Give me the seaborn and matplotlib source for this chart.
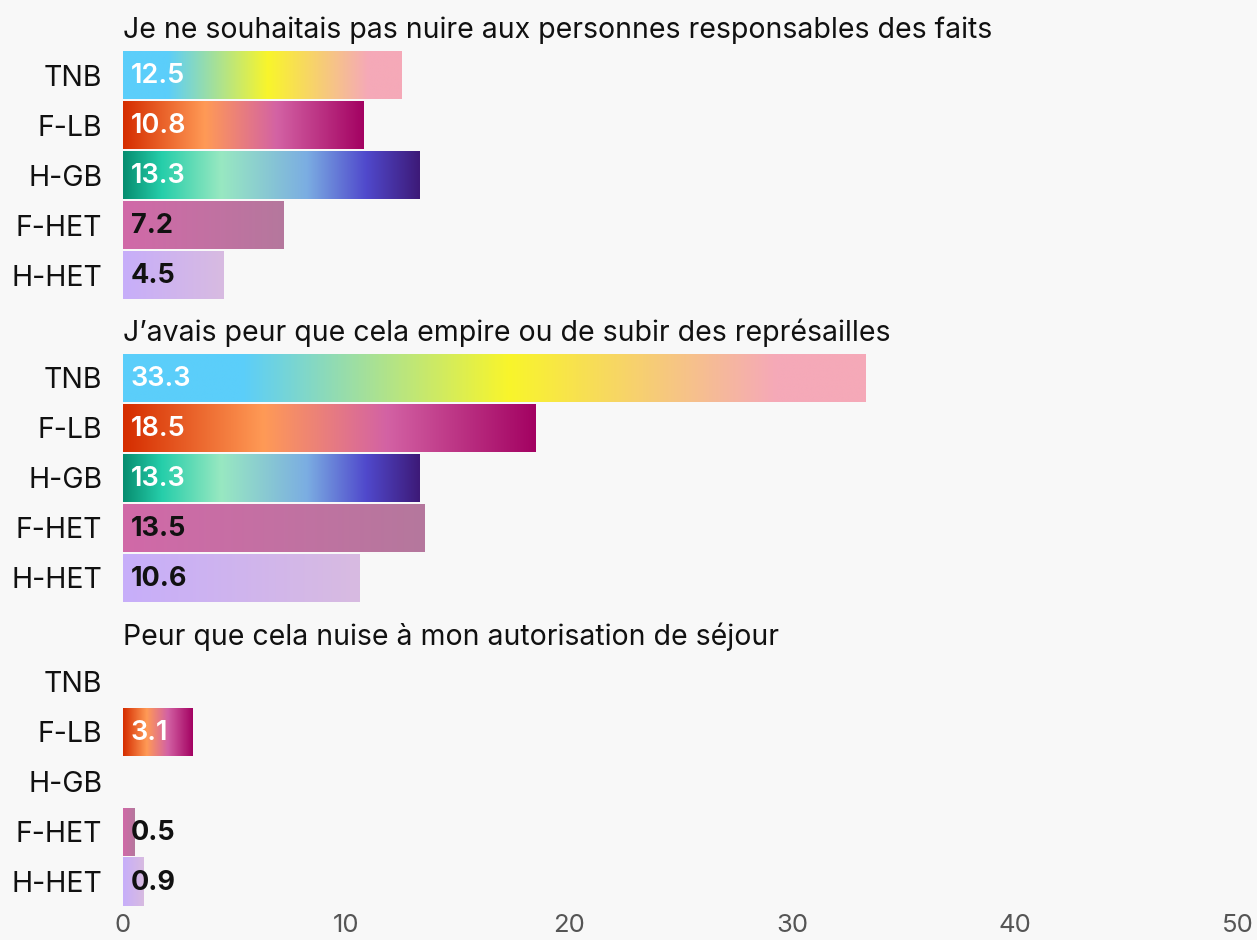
import numpy as np
import pandas as pd
import matplotlib
matplotlib.use("Agg")
import matplotlib.pyplot as plt
from matplotlib.colors import LinearSegmentedColormap
import seaborn as sns

# Data
groups = ["TNB", "F-LB", "H-GB", "F-HET", "H-HET"]
titles = [
    "Je ne souhaitais pas nuire aux personnes responsables des faits",
    "J\u2019avais peur que cela empire ou de subir des représailles",
    "Peur que cela nuise à mon autorisation de séjour",
]
reason1 = [12.5, 10.8, 13.3, 7.2, 4.5]
reason2 = [33.3, 18.5, 13.3, 13.5, 10.6]
reason3 = [np.nan, 3.1, np.nan, 0.5, 0.9]
x_ticks = [0, 10, 20, 30, 40, 50]

# flag-like gradients per group
gradients = {
    "TNB": [(0.0, "#5bcefa"), (0.16, "#5bcefa"), (0.52, "#f9f52b"), (0.88, "#f5a9b8"), (1.0, "#f5a9b8")],
    "F-LB": [(0.0, "#d52d00"), (0.34, "#ff9a56"), (0.64, "#d362a4"), (1.0, "#a30262")],
    "H-GB": [(0.0, "#078d70"), (0.13, "#26ceaa"), (0.33, "#98e8c1"), (0.62, "#7bade2"), (0.82, "#5049cc"), (1.0, "#3d1a78")],
    "F-HET": [(0.0, "#d169a8"), (1.0, "#b5789d")],
    "H-HET": [(0.0, "#c7aefa"), (1.0, "#d8bbe1")],
}
label_colors = {"TNB": "white", "F-LB": "white", "H-GB": "white", "F-HET": "#111111", "H-HET": "#111111"}

bg = "#f8f8f8"
sns.set_theme(style="white")
plt.rcParams['font.family'] = ['Inter', 'DejaVu Sans']
plt.rcParams['axes.facecolor'] = bg
plt.rcParams['figure.facecolor'] = bg

fig = plt.figure(figsize=(12.57, 9.4), dpi=100)
tops = [50, 353, 657]
left = 123 / 1257
width = (1238 - 123) / 1257
axes = [fig.add_axes([left, 1 - (t + 250) / 940, width, 250 / 940]) for t in tops]

grad_img = np.linspace(0, 1, 512).reshape(1, -1)

for ax, title, vals in zip(axes, titles, [reason1, reason2, reason3]):
    df = pd.DataFrame({"group": groups, "value": vals})
    sns.barplot(data=df, y="group", x="value", order=groups, orient="h",
                width=0.96, color="white", ax=ax, errorbar=None)
    # replace flat bars with gradient fills
    for p in list(ax.patches):
        idx = int(round(p.get_y() + p.get_height() / 2))
        g = groups[idx]
        x0, w = p.get_x(), p.get_width()
        if not np.isfinite(w) or w <= 0:
            continue
        y0, h = p.get_y(), p.get_height()
        cmap = LinearSegmentedColormap.from_list(g, gradients[g])
        ax.imshow(grad_img, cmap=cmap, aspect="auto", extent=[x0, x0 + w, y0 + h, y0],
                  zorder=2, interpolation="bilinear")
        p.set_visible(False)
    for i, (g, v) in enumerate(zip(groups, vals)):
        if np.isnan(v):
            continue
        ax.annotate(f"{v:.1f}", xy=(0, i), xytext=(8, -1), textcoords="offset pixels",
                    va="center", ha="left", fontsize=19.5, color=label_colors[g],
                    fontweight="semibold" if label_colors[g] == "white" else "bold", zorder=3)
    ax.set_xlim(0, 50)
    ax.set_ylim(4.5, -0.5)
    ax.set_xlabel("")
    ax.set_ylabel("")
    sns.despine(ax=ax, left=True, bottom=True)
    ax.tick_params(axis="y", length=0, pad=15, labelsize=20.5, labelcolor="#111111")
    ax.annotate(title, xy=(0, 1), xycoords="axes fraction", xytext=(0, 12),
                textcoords="offset pixels", ha="left", va="baseline",
                fontsize=20.5, color="#111111")
    if ax is axes[-1]:
        ax.set_xticks(x_ticks)
        ax.tick_params(axis="x", length=0, pad=5, labelsize=18.5, labelcolor="#555555")
    else:
        ax.set_xticks([])

fig.savefig("out.png", dpi=100, facecolor=bg)
